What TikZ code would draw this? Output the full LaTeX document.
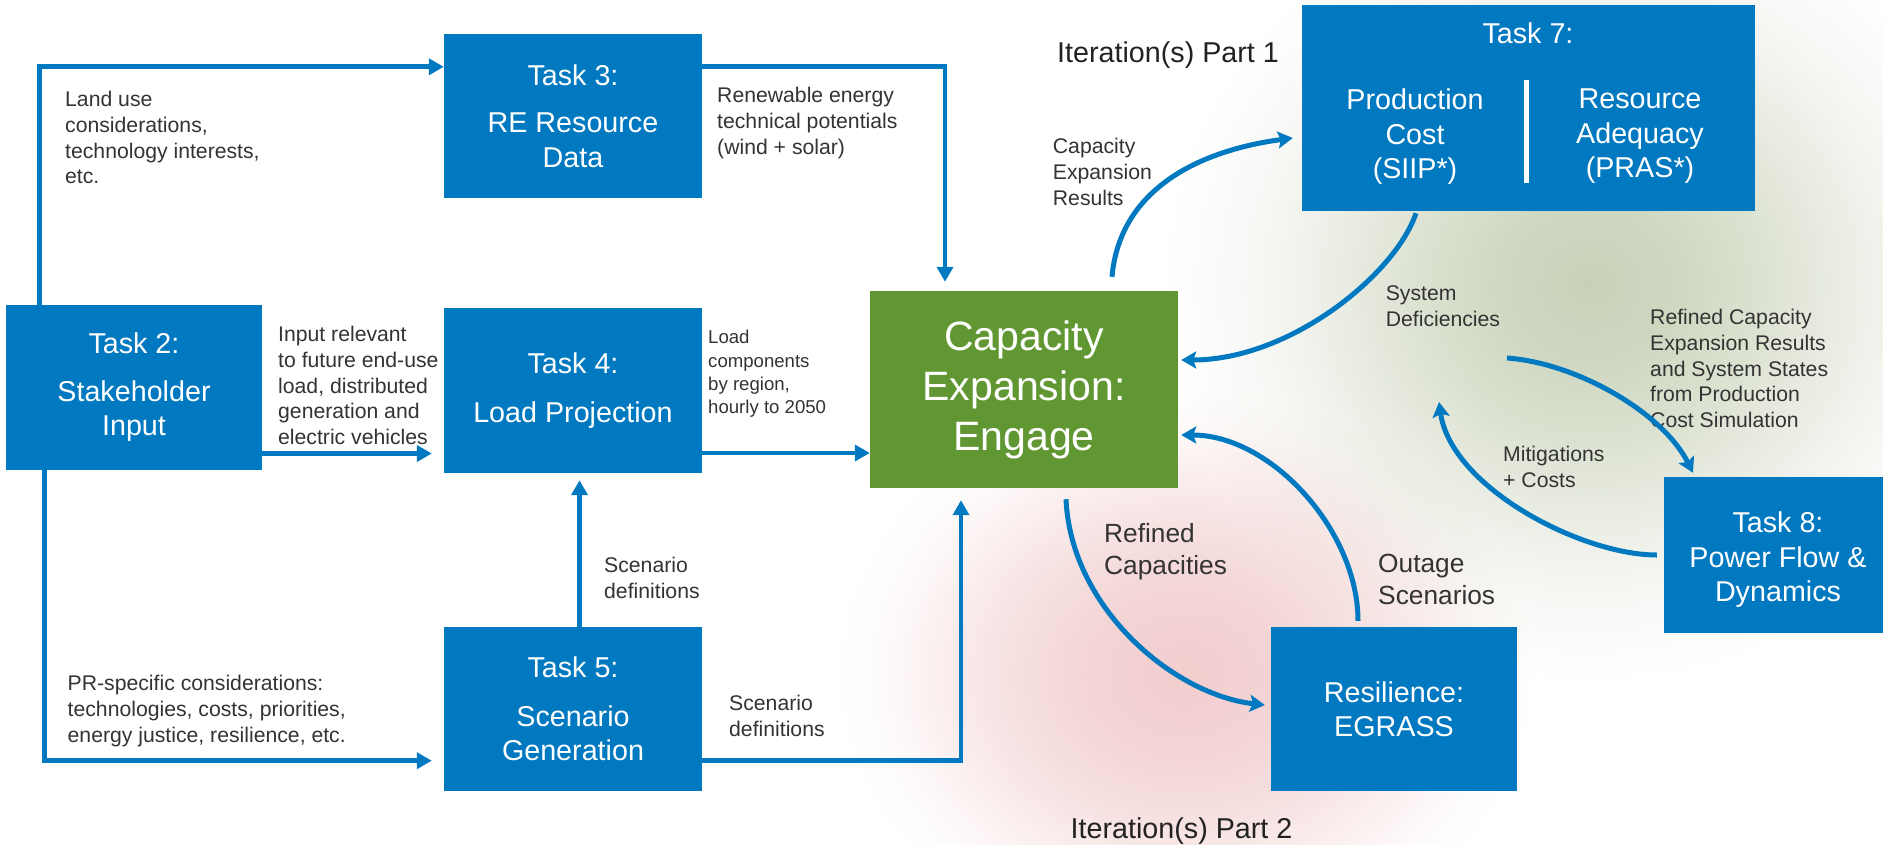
\documentclass[tikz,border=0pt]{standalone}
\usepackage{fontspec}
\setmainfont{Liberation Sans}
\usetikzlibrary{arrows.meta,calc}
\definecolor{nblue}{RGB}{0,121,193}
\definecolor{ngreen}{RGB}{97,151,50}
\definecolor{ntext}{RGB}{51,51,51}
\definecolor{itext}{RGB}{34,34,34}
\definecolor{gA}{RGB}{200,209,184}
\definecolor{gB}{RGB}{207,215,193}
\definecolor{gC}{RGB}{220,226,209}
\definecolor{gD}{RGB}{235,238,229}
\definecolor{gE}{RGB}{248,249,246}
\definecolor{pA}{RGB}{242,205,206}
\definecolor{pB}{RGB}{243,211,212}
\definecolor{pC}{RGB}{246,223,223}
\definecolor{pD}{RGB}{250,237,237}
\definecolor{pE}{RGB}{254,250,250}
\pgfdeclareradialshading{greenglow}{\pgfpoint{0bp}{0bp}}{color(0bp)=(gA); color(5bp)=(gB); color(10bp)=(gC); color(15bp)=(gD); color(20bp)=(gE); color(25bp)=(white); color(50bp)=(white)}
\pgfdeclareradialshading{pinkglow}{\pgfpoint{0bp}{0bp}}{color(0bp)=(pA); color(6bp)=(pB); color(12bp)=(pC); color(17bp)=(pD); color(21.5bp)=(pE); color(25bp)=(white); color(50bp)=(white)}
\newcommand{\boxfont}{\fontsize{28.7}{34.5}\selectfont}
\newcommand{\lblfont}{\fontsize{21.2}{25.6}\selectfont}
\newcommand{\midfont}{\fontsize{26.3}{32}\selectfont}
\newcommand{\smlfont}{\fontsize{18.6}{23.2}\selectfont}
\newcommand{\cefont}{\fontsize{41}{50}\selectfont}
\newcommand{\iterfont}{\fontsize{28.7}{34}\selectfont}
\tikzset{
  taskbox/.style={fill=nblue, text=white, inner sep=0pt, align=center, font=\boxfont},
  cebox/.style={fill=ngreen, text=white, inner sep=0pt, align=center, font=\cefont},
  lbl/.style={text=ntext, inner sep=0pt, align=left, anchor=north west, font=\lblfont},
  smlbl/.style={text=ntext, inner sep=0pt, align=left, anchor=north west, font=\smlfont},
  midlbl/.style={text=ntext, inner sep=0pt, align=left, anchor=north west, font=\midfont},
  iterlbl/.style={text=itext, inner sep=0pt, anchor=north west, font=\iterfont},
  wtext/.style={text=white, inner sep=0pt, align=center, font=\boxfont},
  conn/.style={draw=nblue, line width=4.7pt, -{Triangle[length=15pt,width=16pt]}},
  arc/.style={draw=nblue, line width=5pt, -{Stealth[length=15pt,width=17pt,inset=3pt]}}
}
\begin{document}
\begin{tikzpicture}[x=1pt,y=-1pt]
\useasboundingbox (0,0) rectangle (1883,844);
\clip (0,0) rectangle (1883,844);
\fill[white] (0,0) rectangle (1883,844);
% background glows
\shade[shading=greenglow, blend mode=multiply] (1590,285) ellipse [x radius=430, y radius=400];
\shade[shading=pinkglow, blend mode=multiply] (1185,675) ellipse [x radius=350, y radius=290];

% boxes
\node[taskbox, minimum width=256pt, minimum height=165pt] (t2) at (134,387.5) {Task 2:\\[13pt]Stakeholder\\Input};
\node[taskbox, minimum width=258pt, minimum height=164pt] (t3) at (573,116) {Task 3:\\[13pt]RE Resource\\Data};
\node[taskbox, minimum width=258pt, minimum height=165pt] (t4) at (573,390.5) {Task 4:\\[14.5pt]Load Projection};
\node[taskbox, minimum width=258pt, minimum height=164pt] (t5) at (573,709) {Task 5:\\[14pt]Scenario\\Generation};
\node[cebox, minimum width=308pt, minimum height=197pt] (ce) at (1024,389.5) {Capacity\\Expansion:\\Engage};
\node[taskbox, minimum width=453pt, minimum height=206pt] (t7) at (1528.5,108) {};
\node[taskbox, minimum width=219pt, minimum height=156pt] (t8) at (1773.5,555) {};
\node[wtext] (t8text) at (1778,560) {Task 8:\\Power Flow \&\\Dynamics};
\node[taskbox, minimum width=246pt, minimum height=164pt] (eg) at (1394,709) {Resilience:\\EGRASS};

% Task 7 contents
\node[wtext] (t7title) at (1528,33) {Task 7:};
\node[wtext, anchor=north] (t7pc) at (1415,88.7) {Production\\Cost\\(SIIP*)};
\node[wtext, anchor=north] (t7ra) at (1640,88.7) {Resource\\Adequacy\\(PRAS*)};
\fill[white] (1523.5,80) rectangle (1528.5,183);

% labels
\node[lbl] (l1) at (65,91.4) {Land use\\considerations,\\technology interests,\\etc.};
\node[lbl] (l2) at (278,326.4) {Input relevant\\to future end-use\\load, distributed\\generation and\\electric vehicles};
\node[lbl] (l3) at (67.5,675.4) {PR-specific considerations:\\technologies, costs, priorities,\\energy justice, resilience, etc.};
\node[lbl] (l4) at (604,557.4) {Scenario\\definitions};
\node[lbl] (l5) at (717,87.4) {Renewable energy\\technical potentials\\(wind + solar)};
\node[smlbl] (l6) at (708,330.3) {Load\\components\\by region,\\hourly to 2050};
\node[lbl] (l7) at (729,695) {Scenario\\definitions};
\node[lbl] (l8) at (1052.7,138.4) {Capacity\\Expansion\\Results};
\node[lbl] (l9) at (1385.6,285.4) {System\\Deficiencies};
\node[lbl] (l10) at (1650,309.4) {Refined Capacity\\Expansion Results\\and System States\\from Production\\Cost Simulation};
\node[lbl] (l11) at (1503,446.4) {Mitigations\\+ Costs};
\node[midlbl] (l12) at (1104,523.5) {Refined\\Capacities};
\node[midlbl] (l13) at (1378,553.5) {Outage\\Scenarios};
\node[iterlbl] (it1) at (1057,41.5) {Iteration(s) Part 1};
\node[iterlbl] (it2) at (1070.5,817.5) {Iteration(s) Part 2};

% straight connectors
\draw[conn] ([xshift=34pt]t2.north west) |- ([yshift=-33pt]t3.north west);
\draw[conn] ([yshift=-33pt]t3.north east) -| ([xshift=-79pt,yshift=9pt]ce.north);
\draw[conn] ($(t2.east)+(0,66)$) -- ($(t4.west)+(-12,63)$);
\draw[conn] ([xshift=38.5pt]t2.south west) |- ($(t5.west)+(-12,51.7)$);
\draw[conn] ($(t5.north)+(6.5,0)$) -- ($(t4.south)+(6.5,7)$);
\draw[conn] ($(t4.east)+(0,62.5)$) -- ($(ce.west)+(0,63.5)$);
\draw[conn] ($(t5.east)+(0,51.7)$) -| ($(ce.south)+(-63,12)$);

% curved connectors
\coordinate (rcs) at (1507,358);
\coordinate (mit) at (1439,402);
\draw[arc] ($(ce.north)+(88,-14)$) .. controls +(8,-90) and +(-90,12) .. ($(t7.west)+(-9,30)$);
\draw[arc] ($(t7.south)+(-112.5,2)$) .. controls +(-20,60) and +(110,0) .. ($(ce.east)+(3,-29.5)$);
\draw[arc] (rcs) .. controls +(70,5) and +(-30,-60) .. ($(t8.north)+(-80.5,-4)$);
\draw[arc] ($(t8.west)+(-7,0)$) .. controls +(-76,0) and +(12,85) .. (mit);
\draw[arc] ($(ce.south)+(42,11)$) .. controls +(5,110) and +(-90,-10) .. ($(eg.west)+(-6,-4)$);
\draw[arc] ($(eg.north)+(-36,-6)$) .. controls +(0,-90) and +(90,0) .. ($(ce.east)+(3,45.5)$);
\end{tikzpicture}
\end{document}
